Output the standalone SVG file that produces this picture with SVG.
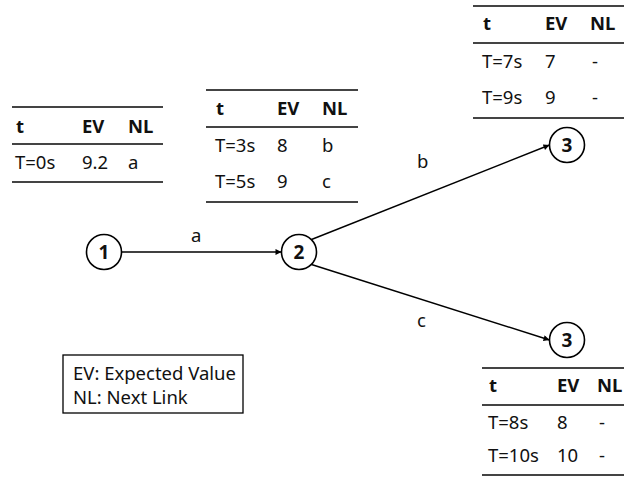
<svg xmlns="http://www.w3.org/2000/svg" width="624" height="478" viewBox="0 0 624 478">
  <defs>
    <style>
      text { font-family: "Noto Sans", "Open Sans", sans-serif; font-size: 18.5px; fill: #111; }
      .hd { font-weight: bold; }
      .rule { stroke: #444; stroke-width: 2; }
      .node circle { fill: #fff; stroke: #000; stroke-width: 1.6; }
      .node text { font-weight: bold; text-anchor: middle; font-size: 19px; }
      .edge { stroke: #000; stroke-width: 1.4; fill: none; marker-end: url(#arrow); }
      .legend rect { fill: #fff; stroke: #000; stroke-width: 1.3; }
    </style>
    <marker id="arrow" viewBox="0 0 10 10" refX="10" refY="5" markerWidth="7" markerHeight="6" markerUnits="userSpaceOnUse" orient="auto">
      <path d="M0,0 L10,5 L0,10 z" fill="#000"/>
    </marker>
  </defs>

  <rect width="624" height="478" fill="#fff"/>

  <!-- connectors -->
  <g id="connectors">
    <line class="edge" x1="121.5" y1="252" x2="281.5" y2="252"/>
    <line class="edge" x1="311.5" y1="239.5" x2="549.5" y2="145"/>
    <line class="edge" x1="311.5" y1="264.5" x2="549.5" y2="340"/>
    <text x="191" y="242">a</text>
    <text x="417" y="168">b</text>
    <text x="417" y="327">c</text>
  </g>

  <!-- nodes -->
  <g id="node-1" class="node">
    <circle cx="104" cy="252" r="17.5"/>
    <text x="104" y="258.5">1</text>
  </g>
  <g id="node-2" class="node">
    <circle cx="299" cy="252" r="17.5"/>
    <text x="299" y="258.5">2</text>
  </g>
  <g id="node-3-top" class="node">
    <circle cx="567" cy="145" r="17.5"/>
    <text x="567" y="151.5">3</text>
  </g>
  <g id="node-3-bottom" class="node">
    <circle cx="567" cy="340" r="17.5"/>
    <text x="567" y="346.5">3</text>
  </g>

  <!-- table at node 1 -->
  <g id="table-1">
    <line class="rule" x1="12" y1="107" x2="163" y2="107"/>
    <line class="rule" x1="12" y1="144" x2="163" y2="144"/>
    <line class="rule" x1="12" y1="182" x2="163" y2="182"/>
    <text class="hd" x="16" y="133">t</text>
    <text class="hd" x="82" y="133">EV</text>
    <text class="hd" x="128" y="133">NL</text>
    <text x="15" y="169">T=0s</text>
    <text x="82" y="169">9.2</text>
    <text x="128" y="169">a</text>
  </g>

  <!-- table at node 2 -->
  <g id="table-2">
    <line class="rule" x1="206" y1="90" x2="358" y2="90"/>
    <line class="rule" x1="206" y1="127" x2="358" y2="127"/>
    <line class="rule" x1="206" y1="202" x2="358" y2="202"/>
    <text class="hd" x="216" y="114.5">t</text>
    <text class="hd" x="277" y="114.5">EV</text>
    <text class="hd" x="322" y="114.5">NL</text>
    <text x="215" y="151.5">T=3s</text>
    <text x="277" y="151.5">8</text>
    <text x="322" y="151.5">b</text>
    <text x="215" y="188">T=5s</text>
    <text x="277" y="188">9</text>
    <text x="322" y="188">c</text>
  </g>

  <!-- table at upper node 3 -->
  <g id="table-3">
    <line class="rule" x1="473" y1="6" x2="624" y2="6"/>
    <line class="rule" x1="473" y1="43" x2="624" y2="43"/>
    <line class="rule" x1="473" y1="118" x2="624" y2="118"/>
    <text class="hd" x="483" y="29.5">t</text>
    <text class="hd" x="545" y="29.5">EV</text>
    <text class="hd" x="590" y="29.5">NL</text>
    <text x="482" y="68">T=7s</text>
    <text x="545" y="68">7</text>
    <text x="592" y="68">-</text>
    <text x="482" y="103.5">T=9s</text>
    <text x="545" y="103.5">9</text>
    <text x="592" y="103.5">-</text>
  </g>

  <!-- table at lower node 3 -->
  <g id="table-4">
    <line class="rule" x1="482" y1="368" x2="624" y2="368"/>
    <line class="rule" x1="482" y1="405" x2="624" y2="405"/>
    <line class="rule" x1="482" y1="475" x2="624" y2="475"/>
    <text class="hd" x="489" y="391.5">t</text>
    <text class="hd" x="557" y="391.5">EV</text>
    <text class="hd" x="597" y="391.5">NL</text>
    <text x="488" y="428.5">T=8s</text>
    <text x="557" y="428.5">8</text>
    <text x="599" y="428.5">-</text>
    <text x="488" y="461.5">T=10s</text>
    <text x="557" y="461.5">10</text>
    <text x="599" y="461.5">-</text>
  </g>

  <!-- legend -->
  <g id="legend" class="legend">
    <rect x="63" y="355" width="180" height="58"/>
    <text x="73" y="379.5">EV: Expected Value</text>
    <text x="73" y="403.5">NL: Next Link</text>
  </g>
</svg>
